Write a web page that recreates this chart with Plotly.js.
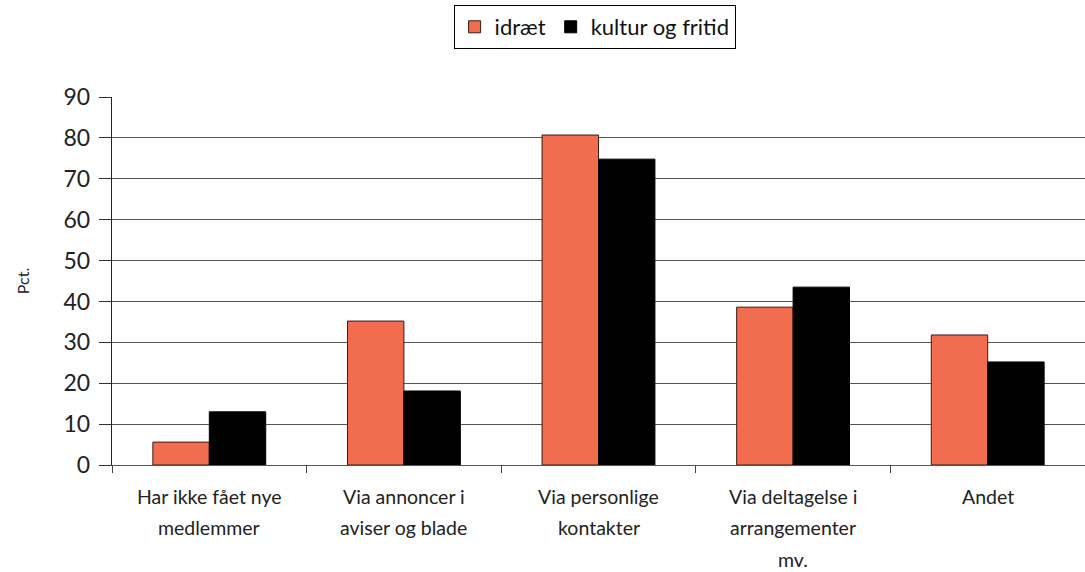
<!DOCTYPE html>
<html><head><meta charset="utf-8">
<script src="https://cdn.plot.ly/plotly-3.0.1.min.js"></script>
<style>body{margin:0;background:#fff}#c{width:1085px;height:572px}</style>
</head><body><div id="c"></div>
<script>
const categories = ["Har ikke fået nye<br>medlemmer", "Via annoncer i<br>aviser og blade", "Via personlige<br>kontakter", "Via deltagelse i<br>arrangementer<br>mv.", "Andet"];
const idraet = [5.6, 35.2, 80.7, 38.6, 31.8];
const kultur = [13.0, 18.1, 74.8, 43.5, 25.2];
const yTicks = [0, 10, 20, 30, 40, 50, 60, 70, 80, 90];

const traces = [
  {type: "bar", name: "idræt", x: categories, y: idraet,
   marker: {color: "#F26C4F", line: {color: "#3a1a14", width: 1}}},
  {type: "bar", name: "kultur og fritid", x: categories, y: kultur,
   marker: {color: "#000000", line: {color: "#000000", width: 1}}}
];

// category labels drawn line by line for the reference's wide line spacing
const annotations = [];
categories.forEach(function (c) {
  c.split("<br>").forEach(function (line, i) {
    annotations.push({xref: "x", yref: "paper", x: c, y: 0, yanchor: "middle",
      yshift: -31 - 31.5 * i, text: line, showarrow: false,
      font: {size: 19.5, color: "#222"}});
  });
});

const layout = {
  width: 1085, height: 572,
  margin: {l: 112, r: 0, t: 97, b: 107},
  paper_bgcolor: "#fff", plot_bgcolor: "#fff",
  font: {family: "Lato, 'Open Sans', sans-serif", color: "#222"},
  barmode: "group", bargap: 0.42, bargroupgap: 0,
  showlegend: true,
  legend: {orientation: "h", x: 0.496, xanchor: "center", y: 1.25, yanchor: "top",
           bordercolor: "#000", borderwidth: 1, font: {size: 22, color: "#111"},
           itemwidth: 30, traceorder: "normal"},
  annotations: annotations,
  xaxis: {type: "category", tickson: "boundaries", ticks: "outside", ticklen: 7,
          tickcolor: "#444", showline: true, linecolor: "#555", linewidth: 1,
          showticklabels: false, showgrid: false},
  yaxis: {range: [0, 90], tickvals: yTicks, ticks: "outside", ticklen: 12, tickcolor: "#333",
          showline: true, linecolor: "#222", linewidth: 1.2, ticklabelstandoff: 4,
          showgrid: true, gridcolor: "#555", gridwidth: 1, zeroline: false,
          tickfont: {size: 23, color: "#222"},
          title: {text: "Pct.", font: {size: 16, color: "#222"}, standoff: 30}}
};
Plotly.newPlot("c", traces, layout, {displayModeBar: false, staticPlot: true});
</script></body></html>
